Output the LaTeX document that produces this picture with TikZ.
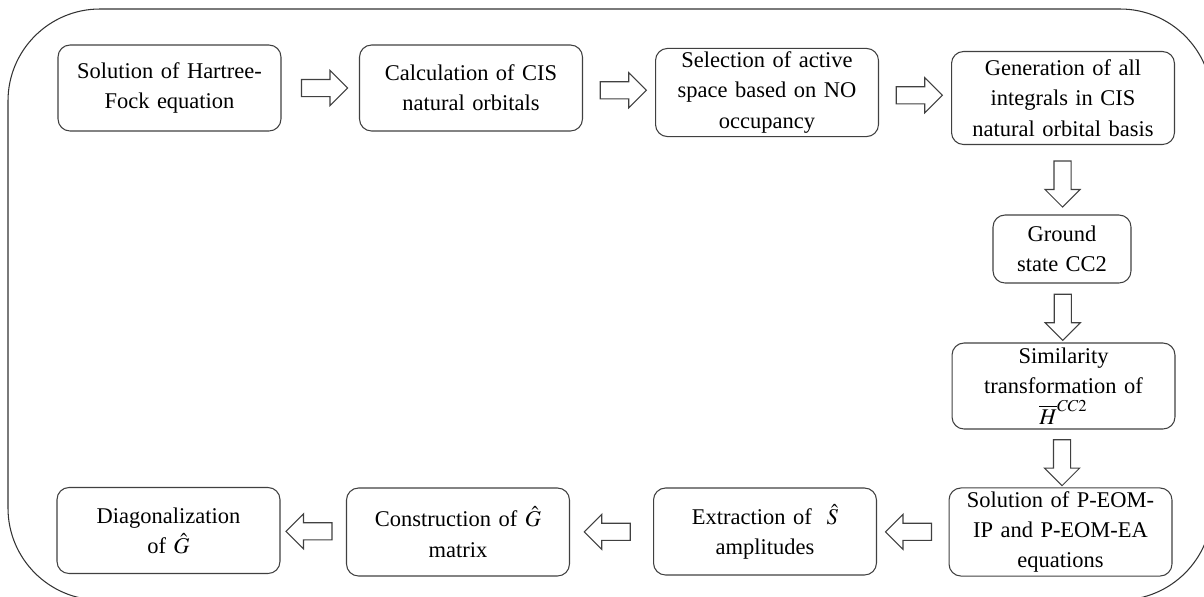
\documentclass[tikz,border=0pt]{standalone}
\usepackage{mathptmx}
\usepackage{fontspec}
\setmainfont{Liberation Serif}
\usepackage{tikz}
\usetikzlibrary{positioning}
\usetikzlibrary{calc}
\usetikzlibrary{shapes.arrows}

\tikzset{
  stepbox/.style={draw=black!75, line width=0.6pt, rounded corners=0.24cm, align=center,
    inner sep=2pt, text width=4.2cm, minimum width=4.46cm, minimum height=1.72cm,
    font=\fontsize{12.8}{17.2}\selectfont},
  fatarrow/.style={single arrow, draw=black!75, fill=white, line width=0.6pt,
    minimum height=0.92cm, inner sep=0.16cm, single arrow head extend=0.18cm},
}

\begin{document}
\begin{tikzpicture}[x=0.02cm, y=-0.02cm]
  \useasboundingbox (0,0) rectangle (1204,596);
  \begin{scope}
    \clip (0,0) rectangle (1204,596);
    \draw[draw=black!80, line width=0.6pt, rounded corners=1.84cm] (8,9) rectangle (1212,600);
  \end{scope}

  % top row
  \node[stepbox] (hartree) at (169.5,88) {Solution of Hartree-\\Fock equation};
  \node[stepbox] (cisNO) at (471,88) {Calculation of CIS\\natural orbitals};
  \node[stepbox, minimum height=1.74cm] (activeSpace) at (767,92.5) {Selection of active\\space based on NO\\occupancy};
  \node[stepbox, minimum height=1.86cm] (integrals) at (1063,98) {Generation of all\\integrals in CIS\\natural orbital basis};
  % right column
  \node[stepbox, text width=2.5cm, minimum width=2.76cm, minimum height=1.36cm] (groundCC2) at (1062,249) {Ground\\state CC2};
  \node[stepbox] (simTrans) at (1063.5,386) {Similarity\\transformation of\\$\overline{H}^{CC2}$};
  \node[stepbox] (peom) at (1060.5,532) {Solution of P-EOM-\\IP and P-EOM-EA\\equations};
  % bottom row
  \node[stepbox, minimum height=1.74cm] (extractS) at (765,531.5) {Extraction of \ $\hat{S}$\\amplitudes};
  \node[stepbox, minimum height=1.76cm] (constructG) at (458,532) {Construction of $\hat{G}$\\matrix};
  \node[stepbox] (diagG) at (168.5,530.5) {Diagonalization\\of $\hat{G}$};

  \node[fatarrow] (hartree-cisNO) at ($(hartree.east)!.5!(cisNO.west)$) {};
  \node[fatarrow] (cisNO-activeSpace) at ($(cisNO.east)!.5!(activeSpace.west)$) {};
  \node[fatarrow] (activeSpace-integrals) at ($(activeSpace.east)!.5!(integrals.west)$) {};
  \node[fatarrow, shape border rotate=270] (integrals-groundCC2) at ($(integrals.south)!.5!(groundCC2.north)$) {};
  \node[fatarrow, shape border rotate=270] (groundCC2-simTrans) at ($(groundCC2.south)!.5!(simTrans.north)$) {};
  \node[fatarrow, shape border rotate=270] (simTrans-peom) at ($(simTrans.south)!.5!(peom.north)$) {};
  \node[fatarrow, shape border rotate=180] (peom-extractS) at ($(peom.west)!.5!(extractS.east)$) {};
  \node[fatarrow, shape border rotate=180] (extractS-constructG) at ($(extractS.west)!.5!(constructG.east)$) {};
  \node[fatarrow, shape border rotate=180] (constructG-diagG) at ($(constructG.west)!.5!(diagG.east)$) {};
\end{tikzpicture}
\end{document}
